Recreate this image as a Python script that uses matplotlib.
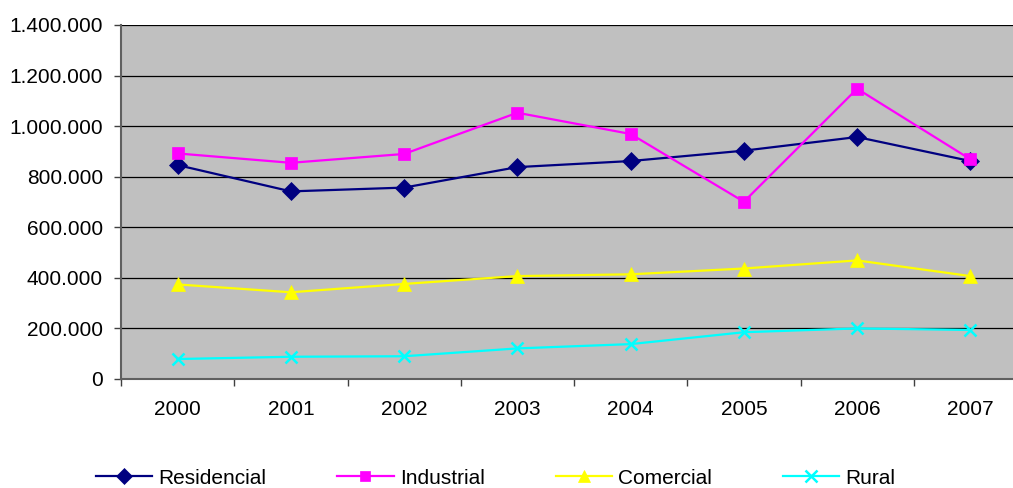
import matplotlib
matplotlib.use("Agg")
import matplotlib.pyplot as plt
from matplotlib.ticker import FixedLocator, FuncFormatter

years = ["2000", "2001", "2002", "2003", "2004", "2005", "2006", "2007"]
residencial = [846000, 742000, 757000, 838000, 862000, 903000, 957000, 862000]
industrial = [892000, 855000, 890000, 1053000, 969000, 701000, 1148000, 869000]
comercial = [374000, 343000, 376000, 407000, 414000, 437000, 469000, 407000]
rural = [79000, 88000, 90000, 121000, 138000, 185000, 200000, 194000]

plt.rcParams['font.family'] = ['Liberation Sans', 'DejaVu Sans']

W, H = 1013, 488
fig = plt.figure(figsize=(W / 100, H / 100), dpi=100)
fig.patch.set_facecolor("white")
left, right, top, bottom = 121, 1027, 25, 379
ax = fig.add_axes([left / W, (H - bottom) / H, (right - left) / W, (bottom - top) / H])
ax.set_facecolor("#C0C0C0")

x = list(range(len(years)))
series = [
    ("Residencial", residencial, "#000080", "D", 9),
    ("Industrial", industrial, "#FF00FF", "s", 8.5),
    ("Comercial", comercial, "#FFFF00", "^", 10),
    ("Rural", rural, "#00FFFF", "x", 9),
]
handles = []
for name, vals, col, mk, ms in series:
    h, = ax.plot(x, vals, color=col, marker=mk, markersize=ms, linewidth=1.6,
                 markeredgewidth=1.8 if mk == "x" else 0.5, markeredgecolor=col,
                 label=name, zorder=3)
    handles.append(h)

ax.set_xlim(-0.5, len(years) - 0.5)
ax.set_ylim(0, 1400000)
ax.yaxis.set_major_locator(FixedLocator([i * 200000 for i in range(8)]))
ax.yaxis.set_major_formatter(FuncFormatter(lambda v, p: f"{int(v):,}".replace(",", ".")))
ax.grid(axis="y", color="black", linewidth=0.9, zorder=1)
ax.set_axisbelow(True)

ax.set_xticks(x)
ax.set_xticklabels(years)
ax.set_xticks([i - 0.5 for i in range(len(years) + 1)], minor=True)
ax.tick_params(axis="x", which="major", length=0, pad=15, labelsize=15)
ax.tick_params(axis="x", which="minor", length=5, width=1, color="#404040", direction="out")
ax.tick_params(axis="y", length=5, width=1, color="#404040", pad=8, labelsize=15)

for s in ["top", "right"]:
    ax.spines[s].set_visible(False)
for s in ["left", "bottom"]:
    ax.spines[s].set_color("#606060")
    ax.spines[s].set_linewidth(1.5)

fig.legend(handles=handles, loc="center left", bbox_to_anchor=(96 / W, 10 / H),
           ncol=4, frameon=False, fontsize=15, handlelength=2.7, handletextpad=0.3,
           columnspacing=3.4, borderpad=0, borderaxespad=0, markerscale=0.9)

fig.savefig("out.png", dpi=100, facecolor="white")
